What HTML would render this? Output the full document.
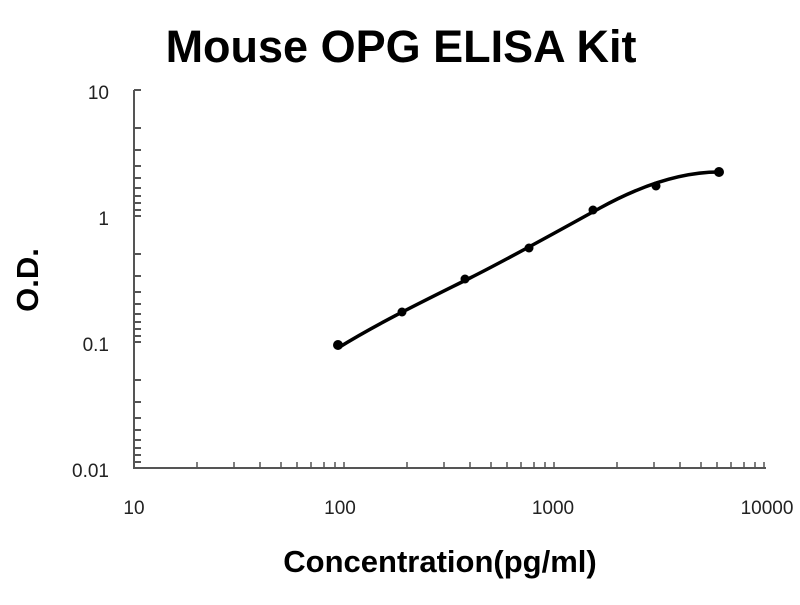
<!DOCTYPE html><html><head><style>body{margin:0;background:#fff}</style></head><body>
<svg width="800" height="600" xmlns="http://www.w3.org/2000/svg" font-family="Liberation Sans, sans-serif">
<text x="401" y="62" text-anchor="middle" font-size="45" font-weight="bold">Mouse OPG ELISA Kit</text>
<g stroke="#555" stroke-width="2" fill="none">
<path d="M134,90 V468 H766"/>
<path d="M134,90h7M134,128h7M134,150h7M134,166h7M134,178h7M134,188h7M134,196h7M134,203h7M134,210h7M134,216h7M134,254h7M134,276h7M134,292h7M134,304h7M134,314h7M134,322h7M134,329h7M134,336h7M134,342h7M134,380h7M134,402h7M134,418h7M134,430h7M134,440h7M134,448h7M134,455h7M134,462h7"/>
<path stroke-width="1.5" d="M197,468v-6M234,468v-6M260,468v-6M281,468v-6M297,468v-6M311,468v-6M324,468v-6M335,468v-6M344,468v-6M407,468v-6M444,468v-6M470,468v-6M491,468v-6M507,468v-6M521,468v-6M534,468v-6M545,468v-6M554,468v-6M617,468v-6M654,468v-6M680,468v-6M701,468v-6M717,468v-6M731,468v-6M744,468v-6M755,468v-6M764,468v-6"/>
</g>
<g font-size="19" fill="#222" text-anchor="end">
<text x="109" y="99">10</text><text x="109" y="225">1</text><text x="109" y="351">0.1</text><text x="109" y="477">0.01</text>
</g>
<g font-size="19" fill="#222" text-anchor="middle">
<text x="134" y="514">10</text><text x="340" y="514">100</text><text x="553" y="514">1000</text><text x="767" y="514">10000</text>
</g>
<text x="440" y="572" text-anchor="middle" font-size="31" font-weight="bold">Concentration(pg/ml)</text>
<text transform="translate(38,280) rotate(-90)" text-anchor="middle" font-size="31" font-weight="bold">O.D.</text>
<path d="M338,348 C380,322 430,298 470,278 S560,230 600,208 S680,172 719,172" stroke="#000" stroke-width="3.5" fill="none"/>
<g fill="#000"><circle cx="338" cy="345" r="5"/><circle cx="402" cy="312" r="4.5"/><circle cx="465" cy="279" r="4.5"/><circle cx="529" cy="248" r="4.5"/><circle cx="593" cy="210" r="4.5"/><circle cx="656" cy="186" r="4.5"/><circle cx="719" cy="172" r="5"/></g>
</svg>
</body></html>
